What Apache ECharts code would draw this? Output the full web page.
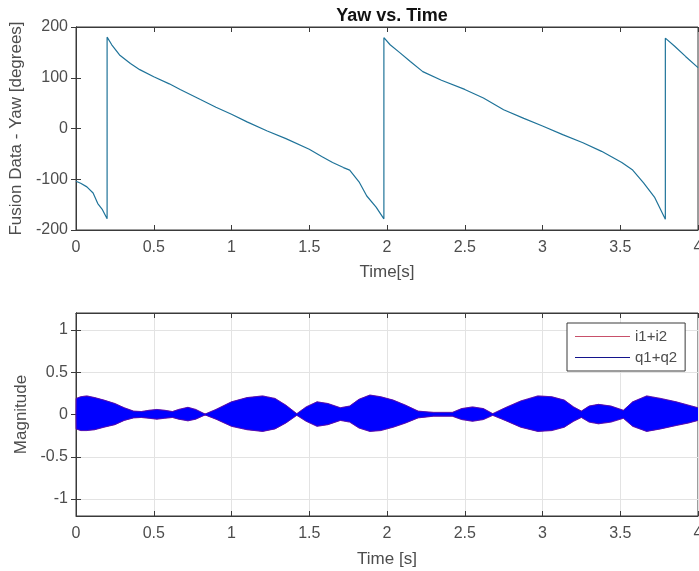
<!DOCTYPE html>
<html>
<head>
<meta charset="utf-8">
<script src="https://cdn.jsdelivr.net/npm/echarts@6/dist/echarts.min.js"></script>
<style>
  html, body { margin: 0; padding: 0; background: #fff; }
  #chart { width: 699px; height: 571px; }
</style>
</head>
<body>
<div id="chart"></div>
<script>
// top plot: yaw vs time
const yawTime = [0, 0.03, 0.07, 0.11, 0.14, 0.17, 0.2, 0.2, 0.23, 0.28, 0.35, 0.41, 0.5, 0.6, 0.67, 0.8, 0.9, 1.0, 1.1, 1.23, 1.35, 1.5, 1.58, 1.65, 1.72, 1.76, 1.82, 1.87, 1.93, 1.98, 1.98, 2.02, 2.08, 2.15, 2.23, 2.35, 2.5, 2.62, 2.75, 2.88, 3.0, 3.13, 3.26, 3.38, 3.51, 3.58, 3.65, 3.72, 3.79, 3.79, 3.85, 3.92, 4.0];
const yawDeg = [-104, -108, -115, -127, -148, -160, -178, 180, 165, 145, 128, 116, 102, 88, 77, 57, 42, 28, 13, -5, -20, -41, -55, -67, -77, -82, -105, -133, -155, -178, 179, 165, 150, 132, 112, 95, 77, 60, 37, 20, 5, -12, -28, -45, -67, -82, -107, -135, -179, 178, 162, 142, 120];

// bottom plot: envelope of the fast oscillating signal
const envTime = [0, 0.001, 0.03, 0.07, 0.12, 0.18, 0.25, 0.31, 0.37, 0.42, 0.47, 0.52, 0.57, 0.62, 0.66, 0.72, 0.77, 0.83, 0.9, 1.0, 1.1, 1.2, 1.28, 1.35, 1.42, 1.48, 1.55, 1.62, 1.7, 1.76, 1.82, 1.89, 1.96, 2.04, 2.12, 2.2, 2.3, 2.42, 2.48, 2.55, 2.62, 2.68, 2.76, 2.86, 2.97, 3.06, 3.14, 3.2, 3.25, 3.3, 3.36, 3.44, 3.52, 3.58, 3.67, 3.76, 3.86, 3.94, 4.0];
const envUpper = [0, 0.19, 0.21, 0.22, 0.2, 0.17, 0.13, 0.08, 0.04, 0.035, 0.05, 0.06, 0.05, 0.035, 0.06, 0.085, 0.06, 0.005, 0.06, 0.15, 0.2, 0.22, 0.19, 0.11, 0.01, 0.09, 0.15, 0.13, 0.08, 0.1, 0.18, 0.23, 0.21, 0.17, 0.11, 0.04, 0.025, 0.025, 0.07, 0.09, 0.07, 0.01, 0.08, 0.16, 0.22, 0.21, 0.17, 0.09, 0.04, 0.1, 0.12, 0.1, 0.05, 0.15, 0.22, 0.19, 0.15, 0.11, 0.08];
const envLower = [0, -0.17, -0.19, -0.19, -0.18, -0.15, -0.12, -0.07, -0.04, -0.035, -0.045, -0.055, -0.045, -0.035, -0.055, -0.075, -0.055, -0.005, -0.055, -0.14, -0.18, -0.2, -0.17, -0.1, -0.01, -0.08, -0.14, -0.12, -0.07, -0.09, -0.16, -0.2, -0.19, -0.15, -0.1, -0.04, -0.02, -0.02, -0.06, -0.08, -0.06, -0.01, -0.07, -0.15, -0.2, -0.19, -0.15, -0.08, -0.035, -0.09, -0.11, -0.09, -0.045, -0.14, -0.2, -0.17, -0.13, -0.1, -0.07];

const magTicks = [-1, -0.5, 0, 0.5, 1];
const seriesNames = ["i1+i2", "q1+q2"];

const FONT = "'Liberation Sans', Arial, sans-serif";
const TXT = "#4d4d4d";
const AX = "#3a3a3a";

const chart = echarts.init(document.getElementById("chart"));

const pairs = (xs, ys) => xs.map((x, i) => [x, ys[i]]);

// x axes (bottom + mirrored top for the box ticks)
const xAxisBase = (gridIndex, name, gap, labels) => ({
  type: "value",
  gridIndex: gridIndex,
  min: 0,
  max: 4,
  interval: 0.5,
  position: labels ? "bottom" : "top",
  name: labels ? name : "",
  nameLocation: "middle",
  nameGap: gap,
  nameTextStyle: { color: TXT, fontSize: 17, fontFamily: FONT },
  axisLine: { show: true, onZero: false, lineStyle: { color: AX, width: 1 } },
  axisTick: { show: true, inside: true, length: 5, lineStyle: { color: AX } },
  axisLabel: {
    show: labels,
    color: TXT,
    fontSize: 16,
    fontFamily: FONT,
    margin: 10,
    formatter: (v) => String(v),
  },
  splitLine: { show: labels && gridIndex === 1, lineStyle: { color: "#e3e3e3", width: 1 } },
});

// upper half filled down past zero, lower half filled up past zero -> no seam
const bandSeries = (name, color) => [
  {
    name: name,
    type: "line",
    xAxisIndex: 2,
    yAxisIndex: 2,
    z: 5,
    data: pairs(envTime, envUpper),
    symbol: "none",
    lineStyle: { width: 0.6, color: color },
    areaStyle: { color: color, opacity: 1, origin: -0.008 },
  },
  {
    name: name,
    type: "line",
    xAxisIndex: 2,
    yAxisIndex: 2,
    z: 5,
    data: pairs(envTime, envLower),
    symbol: "none",
    lineStyle: { width: 0.6, color: color },
    areaStyle: { color: color, opacity: 1, origin: 0.008 },
  },
];

const option = {
  animation: false,
  backgroundColor: "#fff",
  title: {
    text: "Yaw vs. Time",
    left: 387,
    textAlign: "center",
    top: 2,
    textStyle: { color: "#111", fontSize: 18, fontWeight: "bold", fontFamily: FONT },
  },
  legend: {
    orient: "vertical",
    left: 567,
    top: 323,
    padding: [6, 8, 6, 8],
    itemGap: 6,
    itemWidth: 55,
    itemHeight: 1,
    icon: "rect",
    backgroundColor: "#fff",
    borderColor: AX,
    borderWidth: 1,
    textStyle: { color: TXT, fontSize: 15, fontFamily: FONT },
    data: [
      { name: seriesNames[0], itemStyle: { color: "#c8506a" } },
      { name: seriesNames[1], itemStyle: { color: "#14148c" } },
    ],
  },
  grid: [
    { left: 76, right: 1, top: 27, height: 203, show: true, borderColor: AX, borderWidth: 1, outerBoundsMode: "none" },
    { left: 76, right: 1, top: 313, height: 203, show: true, borderColor: AX, borderWidth: 1, outerBoundsMode: "none" },
  ],
  xAxis: [
    xAxisBase(0, "Time[s]", 34, true),
    xAxisBase(0, "", 0, false),
    xAxisBase(1, "Time [s]", 35, true),
    xAxisBase(1, "", 0, false),
  ],
  yAxis: [
    {
      type: "value",
      gridIndex: 0,
      min: -200,
      max: 200,
      interval: 100,
      name: "Fusion Data - Yaw [degrees]",
      nameLocation: "middle",
      nameGap: 48,
      nameTextStyle: { color: TXT, fontSize: 17, fontFamily: FONT },
      axisLine: { show: true, lineStyle: { color: AX } },
      axisTick: { show: true, inside: true, length: 5, lineStyle: { color: AX } },
      axisLabel: { color: TXT, fontSize: 16, fontFamily: FONT, margin: 8 },
      splitLine: { show: false },
    },
    {
      type: "value",
      gridIndex: 0,
      position: "right",
      min: -200,
      max: 200,
      interval: 100,
      axisLine: { show: true, lineStyle: { color: AX } },
      axisTick: { show: true, inside: true, length: 5, lineStyle: { color: AX } },
      axisLabel: { show: false },
      splitLine: { show: false },
    },
    {
      type: "value",
      gridIndex: 1,
      min: -1.2,
      max: 1.2,
      name: "Magnitude",
      nameLocation: "middle",
      nameGap: 35,
      nameTextStyle: { color: TXT, fontSize: 17, fontFamily: FONT },
      axisLine: { show: true, lineStyle: { color: AX } },
      axisTick: { show: true, inside: true, length: 5, customValues: magTicks, lineStyle: { color: AX } },
      axisLabel: { color: TXT, fontSize: 16, fontFamily: FONT, margin: 8, customValues: magTicks },
      splitLine: { show: false },
    },
    {
      type: "value",
      gridIndex: 1,
      position: "right",
      min: -1.2,
      max: 1.2,
      axisLine: { show: true, lineStyle: { color: AX } },
      axisTick: { show: true, inside: true, length: 5, customValues: magTicks, lineStyle: { color: AX } },
      axisLabel: { show: false, customValues: magTicks },
      splitLine: { show: false },
    },
  ],
  series: [
    {
      name: "yaw",
      type: "line",
      xAxisIndex: 0,
      yAxisIndex: 0,
      data: pairs(yawTime, yawDeg),
      showSymbol: false,
      symbol: "none",
      lineStyle: { color: "#1f7399", width: 1.2 },
    },
    // horizontal grid lines of the lower plot (the one at 0 sits under the band anyway)
    {
      name: "grid",
      type: "line",
      xAxisIndex: 2,
      yAxisIndex: 2,
      z: 0,
      data: [],
      silent: true,
      markLine: {
        silent: true,
        z: 0,
        symbol: "none",
        label: { show: false },
        lineStyle: { color: "#e3e3e3", width: 1, type: "solid" },
        data: magTicks.filter((v) => v !== 0).map((v) => ({ yAxis: v })),
      },
    },
    ...bandSeries(seriesNames[0], "#e0202a"),
    ...bandSeries(seriesNames[1], "#0000ff"),
  ],
};

chart.setOption(option);
</script>
</body>
</html>
